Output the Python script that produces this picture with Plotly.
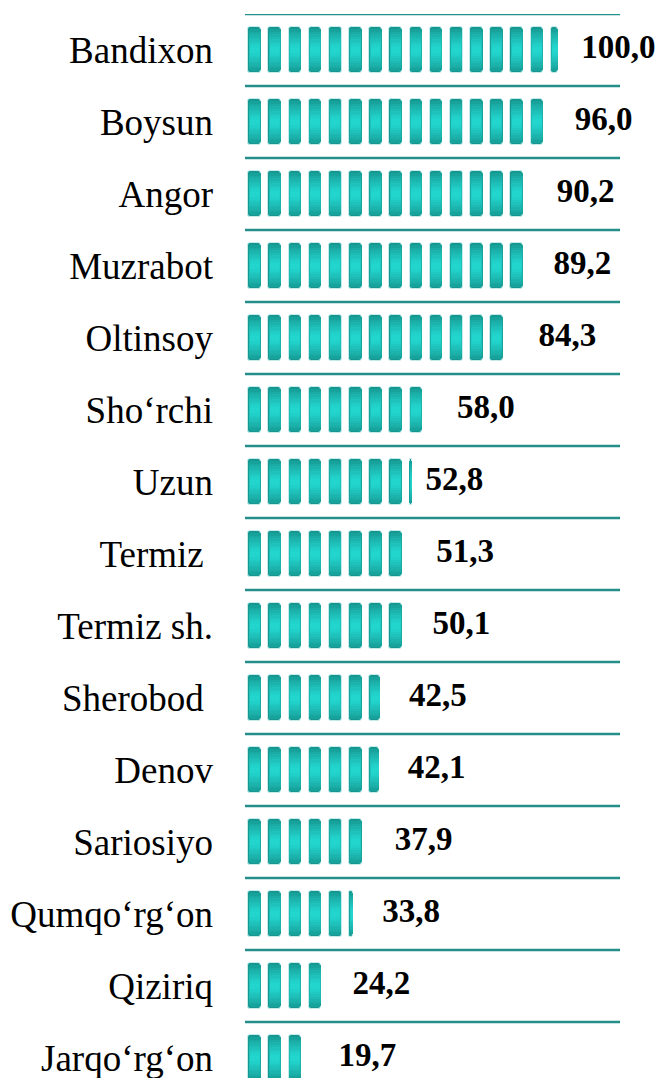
import math
import plotly.graph_objects as go

# ---- data ----
districts = ["Bandixon", "Boysun", "Angor", "Muzrabot", "Oltinsoy", "Sho\u2018rchi", "Uzun",
             "Termiz\u00a0", "Termiz sh.", "Sherobod\u00a0", "Denov", "Sariosiyo",
             "Qumqo\u2018rg\u2018on", "Qiziriq", "Jarqo\u2018rg\u2018on"]
values = [100.0, 96.0, 90.2, 89.2, 84.3, 58.0, 52.8, 51.3, 50.1, 42.5, 42.1, 37.9, 33.8, 24.2, 19.7]

# ---- pictogram styling ----
SEG_PITCH = 6.515     # value units per icon slot
SEG_W = 4.1           # icon width in value units
MIN_PIECE = 0.25      # pieces thinner than this are not drawn
N_LAYERS = 9
C_EDGE = (0x16, 0x96, 0x90)
C_MID = (0x22, 0xd6, 0xce)
LABEL_OFFSET = 18.8   # value units between bar end and label centre
LABEL_NUDGE = {"Bandixon": 0.8, "Uzun": -5.0}  # manual label tweaks, value units
PX_PER_UNIT = 3.094
PLOT_W = 419          # plot area width in px
LINE_W = 375          # separator line length in px
ROW_PX = 72           # row pitch in px
FIG_H = 1070
TOP = 6


def mix(t):
    r, g, b = (round(a + (c - a) * t) for a, c in zip(C_EDGE, C_MID))
    return f"rgb({r},{g},{b})"


LAYERS = []
for i in range(N_LAYERS):
    t = i / (N_LAYERS - 1)
    LAYERS.append((0.64 * (1 - 0.85 * t), 0.55 * t, mix(t ** 0.8)))

fig = go.Figure()

for li, (thick, inset, color) in enumerate(LAYERS):
    ys, bases, lens = [], [], []
    for name, v in zip(districts, values):
        n = math.ceil(v / SEG_PITCH)
        for k in range(n):
            b = k * SEG_PITCH + inset
            ln = min(SEG_W - 2 * inset, v - b)
            if ln > MIN_PIECE or (ln > 0 and li > 0 and v - k * SEG_PITCH > MIN_PIECE):
                ys.append(name)
                bases.append(b)
                lens.append(ln)
    fig.add_trace(go.Bar(
        y=ys, x=lens, base=bases, orientation="h", width=thick,
        marker=dict(color=color, cornerradius=3 if li == 0 else 2,
                    line=dict(width=1 if li == 0 else 0,
                              color="rgba(200,238,236,0.9)" if li == 0 else color)),
        hoverinfo="skip", showlegend=False,
    ))

fig.add_trace(go.Scatter(
    y=districts,
    x=[v + LABEL_OFFSET + LABEL_NUDGE.get(d, 0.0) for d, v in zip(districts, values)],
    mode="text",
    text=[f"{v:.1f}".replace(".", ",") for v in values],
    textposition="middle center",
    textfont=dict(family="Liberation Serif", size=33, color="black", weight=700),
    cliponaxis=False, showlegend=False, hoverinfo="skip",
))

shapes = [dict(type="line", xref="paper", x0=0, x1=LINE_W / PLOT_W, yref="y",
               y0=k - 0.5, y1=k - 0.5,
               line=dict(color="#24908b", width=2.5), layer="below")
          for k in range(len(districts))]

x_lo = -1.07
plot_h = FIG_H - TOP
# page body has an 8px default margin, so the figure is smaller and margins shifted
fig.update_layout(
    width=237 + PLOT_W, height=FIG_H,
    margin=dict(l=237, r=0, t=TOP, b=0),
    paper_bgcolor="white", plot_bgcolor="white",
    barmode="overlay", bargap=0,
    shapes=shapes,
    xaxis=dict(range=[x_lo, x_lo + PLOT_W / PX_PER_UNIT], visible=False, fixedrange=True),
    yaxis=dict(type="category", categoryorder="array", categoryarray=districts,
               range=[plot_h / ROW_PX - 0.5, -0.5], showgrid=False, zeroline=False,
               showline=False, ticks="", ticklabelstandoff=31,
               tickfont=dict(family="Liberation Serif", size=37, color="black")),
)

fig.write_html("out.html")
